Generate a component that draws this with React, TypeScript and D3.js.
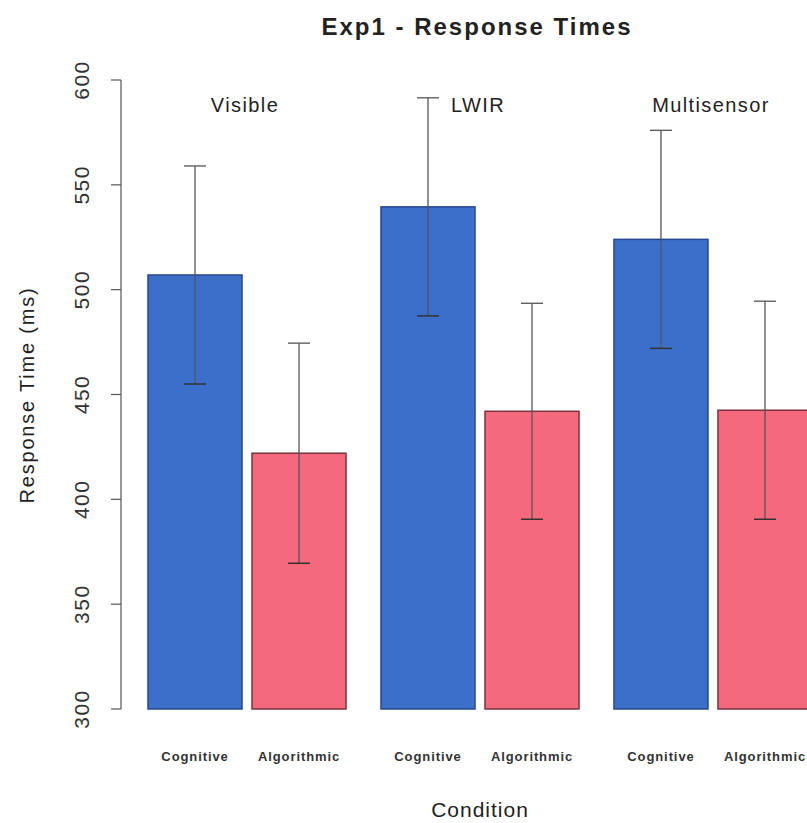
import React from "react";
import * as d3 from "d3";

const conditions = ["Visible", "LWIR", "Multisensor"];
const types = ["Cognitive", "Algorithmic"];
const cognitiveMeans = [507, 539.5, 524];
const algorithmicMeans = [422, 442, 442.5];
const cognitiveErr = [52, 52, 52];
const algorithmicErr = [52.5, 51.5, 52];
const yTicks = [300, 350, 400, 450, 500, 550, 600];

const W = 807;
const H = 823;
const FONT = "Liberation Sans, Arial, Helvetica, sans-serif";

export default function App() {
  const y = d3.scaleLinear().domain([300, 600]).range([709, 80]);
  const xg = d3.scaleBand<string>().domain(conditions).range([148, 812]).paddingInner(0.15).paddingOuter(0);
  const xi = d3.scaleBand<string>().domain(types).range([0, xg.bandwidth()]).paddingInner(0.096).paddingOuter(0);

  const fills: Record<string, string> = { Cognitive: "#3b6fc9", Algorithmic: "#f46a7c" };
  const strokes: Record<string, string> = { Cognitive: "#26498f", Algorithmic: "#7a3340" };

  const bars = conditions.flatMap((c, i) => [
    { c, t: "Cognitive", m: cognitiveMeans[i], e: cognitiveErr[i] },
    { c, t: "Algorithmic", m: algorithmicMeans[i], e: algorithmicErr[i] },
  ]);

  return (
    <svg width={W} height={H} style={{ position: "absolute", left: 0, top: 0, background: "#fff" }} fontFamily={FONT}>
      <text x={477} y={35} textAnchor="middle" fontSize={24} fontWeight="bold" fill="#222" letterSpacing={2}>Exp1 - Response Times</text>
      {/* y axis */}
      <line x1={121} x2={121} y1={y(600)} y2={y(300)} stroke="#555" strokeWidth={1.2} />
      {yTicks.map((t) => (
        <g key={t}>
          <line x1={111} x2={121} y1={y(t)} y2={y(t)} stroke="#555" strokeWidth={1.2} />
          <text transform={`translate(89,${y(t)}) rotate(-90)`} textAnchor="middle" fontSize={21} fill="#333" letterSpacing={1.5}>{t}</text>
        </g>
      ))}
      <text transform={`translate(34,${395}) rotate(-90)`} textAnchor="middle" fontSize={20} fill="#222" letterSpacing={1.8}>Response Time (ms)</text>
      {/* bars */}
      {bars.map((b, i) => {
        const x0 = (xg(b.c) ?? 0) + (xi(b.t) ?? 0);
        const bw = xi.bandwidth();
        const cx = x0 + bw / 2;
        return (
          <g key={i}>
            <rect x={x0} y={y(b.m)} width={bw} height={y(300) - y(b.m)} fill={fills[b.t]} stroke={strokes[b.t]} strokeWidth={1.5} />
            <line x1={cx} x2={cx} y1={y(b.m + b.e)} y2={y(b.m - b.e)} stroke="#555" strokeWidth={1.3} />
            <line x1={cx - 11} x2={cx + 11} y1={y(b.m + b.e)} y2={y(b.m + b.e)} stroke="#555" strokeWidth={1.3} />
            <line x1={cx - 11} x2={cx + 11} y1={y(b.m - b.e)} y2={y(b.m - b.e)} stroke="#333" strokeWidth={1.5} />
            <text x={cx} y={761} textAnchor="middle" fontSize={13} fontWeight="bold" fill="#333" letterSpacing={0.9}>{b.t}</text>
          </g>
        );
      })}
      {conditions.map((c) => (
        <text key={c} x={(xg(c) ?? 0) + xg.bandwidth() / 2 - 2} y={112} textAnchor="middle" fontSize={20} fill="#222" letterSpacing={1.4}>{c}</text>
      ))}
      <text x={480} y={817} textAnchor="middle" fontSize={21} fill="#222" letterSpacing={1}>Condition</text>
    </svg>
  );
}
